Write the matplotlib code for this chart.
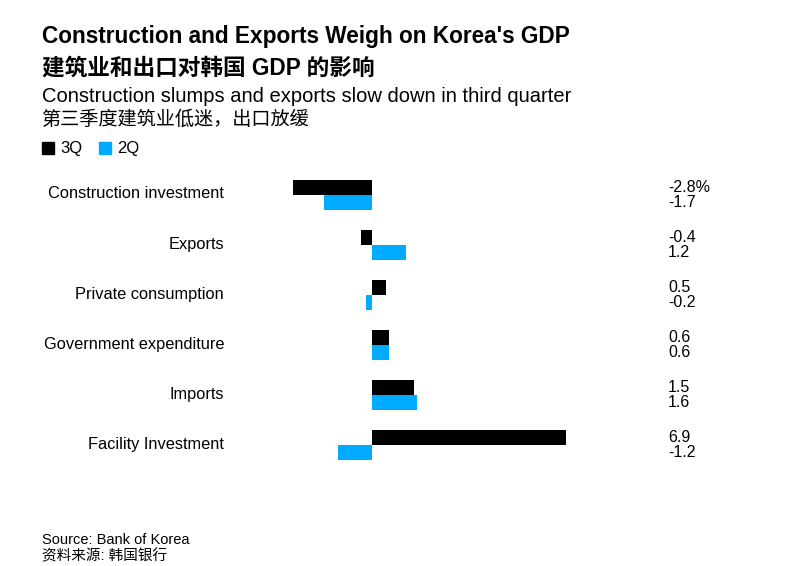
import matplotlib.pyplot as plt
from matplotlib.patches import Patch
from matplotlib.transforms import blended_transform_factory

plt.rcParams['font.family'] = ['Liberation Sans', 'Noto Sans CJK SC', 'DejaVu Sans']

# data (percent change)
categories = ['Construction investment', 'Exports', 'Private consumption',
              'Government expenditure', 'Imports', 'Facility Investment']
q3 = [-2.8, -0.4, 0.5, 0.6, 1.5, 6.9]
q2 = [-1.7, 1.2, -0.2, 0.6, 1.6, -1.2]
q3_labels = ['-2.8%', '-0.4', '0.5', '0.6', '1.5', '6.9']
q2_labels = ['-1.7', '1.2', '-0.2', '0.6', '1.6', '-1.2']

black = '#000000'
blue = '#00aaff'

fig = plt.figure(figsize=(8, 5.66), dpi=100)
W, H = 800, 566

# axes: pixels 230..650 horizontally, 170..470 vertically
ax = fig.add_axes([230 / W, 1 - 470 / H, 420 / W, 300 / H])
ax.set_xlim(-5.05, 9.9)
ax.set_ylim(5.5, -0.5)
ax.axis('off')

ys = list(range(len(categories)))
h = 0.29
ax.barh([y - 0.15 for y in ys], q3, height=h, color=black)
ax.barh([y + 0.15 for y in ys], q2, height=h, color=blue)

tr = blended_transform_factory(fig.transFigure, ax.transData)
for y, cat, a, b in zip(ys, categories, q3_labels, q2_labels):
    ax.text(224 / W, y - 0.02, cat, transform=tr, ha='right', va='center', fontsize=11.8)
    ax.text(668 / W, y - 0.15, a, transform=tr, ha='left', va='center', fontsize=11.5)
    ax.text(668 / W, y + 0.15, b, transform=tr, ha='left', va='center', fontsize=11.5)

# titles
fig.text(42 / W, 1 - 36 / H, "Construction and Exports Weigh on Korea's GDP",
         fontsize=16.3, fontweight='bold', va='center')
fig.text(42 / W, 1 - 68 / H, "建筑业和出口对韩国 GDP 的影响",
         fontsize=16.3, fontweight='bold', va='center')
fig.text(42 / W, 1 - 96 / H, "Construction slumps and exports slow down in third quarter",
         fontsize=14.5, va='center')
fig.text(41 / W, 1 - 120 / H, "第三季度建筑业低迷，出口放缓",
         fontsize=13.8, va='center')

handles = [Patch(color=black, label='3Q'), Patch(color=blue, label='2Q')]
fig.legend(handles=handles, loc='center left', bbox_to_anchor=(27 / W, 1 - 149 / H),
           ncol=2, frameon=False, fontsize=12, handlelength=0.7, handleheight=0.7,
           handletextpad=0.4, columnspacing=1.0)

fig.text(42 / W, 1 - 540 / H, "Source: Bank of Korea", fontsize=10.5, va='center')
fig.text(42 / W, 1 - 556 / H, "资料来源: 韩国银行", fontsize=10.5, va='center')

fig.savefig('out.png', dpi=100, facecolor='white')
